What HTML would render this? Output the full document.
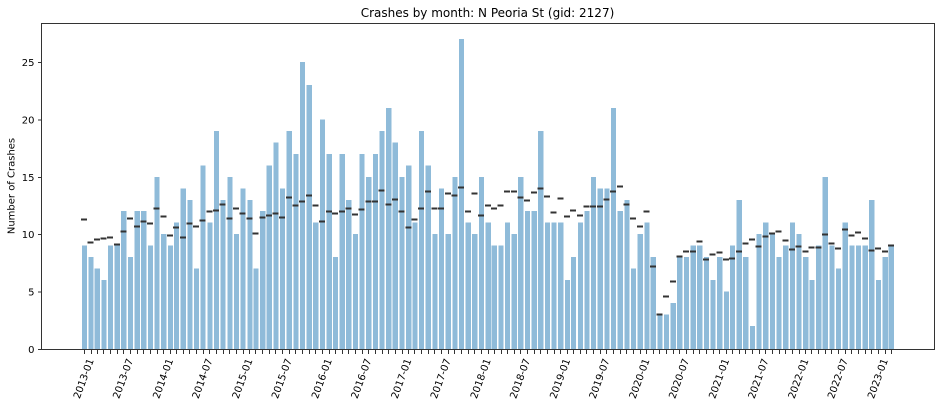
<!DOCTYPE html>
<html>
<head>
<meta charset="utf-8">
<title>Crashes by month</title>
<style>
html,body{margin:0;padding:0;background:#fff;}
svg{display:block;}
text{font-family:"DejaVu Sans","Liberation Sans",sans-serif;fill:#000000;}
</style>
</head>
<body>
<svg id="chart" xmlns="http://www.w3.org/2000/svg" width="940" height="406" viewBox="0 0 940 406">
  <rect x="0" y="0" width="940" height="406" fill="#ffffff"/>
  <g id="bars" shape-rendering="crispEdges"></g>
  <g id="dashes" shape-rendering="crispEdges"></g>
  <g id="xaxis"></g>
  <g id="yaxis"></g>
  <g shape-rendering="crispEdges" fill="#333333">
    <rect x="41" y="23" width="1" height="327"/>
    <rect x="934" y="23" width="1" height="327"/>
    <rect x="41" y="23" width="894" height="1"/>
    <rect x="41" y="349" width="894" height="1"/>
  </g>
  <text x="487.5" y="17" font-size="12" text-anchor="middle">Crashes by month: N Peoria St (gid: 2127)</text>
  <text x="0" y="0" font-size="10" text-anchor="middle" transform="translate(14.5,186) rotate(-90)">Number of Crashes</text>
</svg>
<script>
const months = [
"2013-01","2013-02","2013-03","2013-04","2013-05","2013-06","2013-07","2013-08","2013-09","2013-10","2013-11","2013-12",
"2014-01","2014-02","2014-03","2014-04","2014-05","2014-06","2014-07","2014-08","2014-09","2014-10","2014-11","2014-12",
"2015-01","2015-02","2015-03","2015-04","2015-05","2015-06","2015-07","2015-08","2015-09","2015-10","2015-11","2015-12",
"2016-01","2016-02","2016-03","2016-04","2016-05","2016-06","2016-07","2016-08","2016-09","2016-10","2016-11","2016-12",
"2017-01","2017-02","2017-03","2017-04","2017-05","2017-06","2017-07","2017-08","2017-09","2017-10","2017-11","2017-12",
"2018-01","2018-02","2018-03","2018-04","2018-05","2018-06","2018-07","2018-08","2018-09","2018-10","2018-11","2018-12",
"2019-01","2019-02","2019-03","2019-04","2019-05","2019-06","2019-07","2019-08","2019-09","2019-10","2019-11","2019-12",
"2020-01","2020-02","2020-03","2020-04","2020-05","2020-06","2020-07","2020-08","2020-09","2020-10","2020-11","2020-12",
"2021-01","2021-02","2021-03","2021-04","2021-05","2021-06","2021-07","2021-08","2021-09","2021-10","2021-11","2021-12",
"2022-01","2022-02","2022-03","2022-04","2022-05","2022-06","2022-07","2022-08","2022-09","2022-10","2022-11","2022-12",
"2023-01","2023-02","2023-03"];
const crashCounts = [
9,8,7,6,9,9,12,8,12,12,9,15,
10,9,11,14,13,7,16,11,19,13,15,10,
14,13,7,12,16,18,14,19,17,25,23,11,
20,17,8,17,13,10,17,15,17,19,21,18,
15,16,11,19,16,10,14,10,15,27,11,10,
15,11,9,9,11,10,15,12,12,19,11,11,
11,6,8,11,12,15,14,14,21,12,13,7,
10,11,8,3,3,4,8,8,9,9,8,6,
8,5,9,13,8,2,10,11,10,8,9,11,
10,8,6,9,15,9,7,11,9,9,9,13,
6,8,9];
const meanValues = [
11.27,9.26,9.52,9.61,9.70,9.09,10.22,11.35,10.66,11.09,10.92,12.22,
11.53,9.87,10.57,9.70,10.92,10.66,11.18,11.96,12.05,12.57,11.35,12.22,
11.79,11.35,10.05,11.44,11.61,11.79,11.44,13.18,12.49,12.83,13.36,12.49,
11.09,11.96,11.79,11.96,12.22,11.70,12.14,12.83,12.83,13.79,12.57,13.01,
11.96,10.57,11.27,12.22,13.70,12.22,12.22,13.53,13.36,14.05,11.96,13.53,
11.61,12.49,12.22,12.49,13.70,13.70,13.18,12.92,13.62,13.97,13.27,11.88,
13.10,11.53,12.05,11.61,12.40,12.40,12.40,13.01,13.70,14.14,12.57,11.35,
10.66,11.96,7.17,2.99,4.56,5.87,8.04,8.48,8.48,9.35,7.78,8.22,
8.39,7.78,7.87,8.48,9.18,9.52,8.91,9.79,10.05,10.22,9.44,8.65,
8.91,8.48,8.83,8.83,9.96,9.18,8.74,10.39,9.87,10.13,9.61,8.57,
8.74,8.48,9.00];
const xTickLabels = ["2013-01","2013-07","2014-01","2014-07","2015-01","2015-07","2016-01","2016-07","2017-01","2017-07","2018-01","2018-07","2019-01","2019-07","2020-01","2020-07","2021-01","2021-07","2022-01","2022-07","2023-01"];
const yTickValues = [0,5,10,15,20,25];

const NS = "http://www.w3.org/2000/svg";
function dayOf(month) {
  const parts = month.split("-");
  return Date.UTC(+parts[0], +parts[1] - 1, 1) / 86400000;
}
const firstDay = dayOf(months[0]);
const lastDay = dayOf(months[months.length - 1]);
function xScale(month) {
  return 84.4 + (dayOf(month) - firstDay) * (806.9 / (lastDay - firstDay));
}
function yScale(value) {
  return 349 - value * 11.48;
}
function make(tag, attrs, parent) {
  const el = document.createElementNS(NS, tag);
  for (const key in attrs) el.setAttribute(key, attrs[key]);
  parent.appendChild(el);
  return el;
}
const barLayer = document.getElementById("bars");
const dashLayer = document.getElementById("dashes");
const xLayer = document.getElementById("xaxis");
const yLayer = document.getElementById("yaxis");

months.forEach(function (month, i) {
  const cx = xScale(month);
  const top = yScale(crashCounts[i]);
  const bar = make("rect", {x: cx - 2.6, y: top, width: 5.2, height: 349 - top, fill: "#8fbbd9"}, barLayer);
  
  

  const dash = make("rect", {x: cx - 3.4, y: yScale(meanValues[i]) - 1, width: 6, height: 2, fill: "#333333"}, dashLayer);
  
  

  const tick = make("rect", {x: Math.floor(cx), y: 350, width: 1, height: 4, fill: "#333333", "shape-rendering": "crispEdges"}, xLayer);
  
  
});

xTickLabels.forEach(function (label) {
  const cx = xScale(label) - 1;
  const cy = 378.5;
  const text = make("text", {x: 0, y: 3.6, "font-size": 10, "text-anchor": "middle", transform: "translate(" + cx + "," + cy + ") rotate(-70)"}, xLayer);
  text.textContent = label;
  
  
});

yTickValues.forEach(function (value) {
  const y = yScale(value);
  const tick = make("rect", {x: 38, y: y, width: 3, height: 1, fill: "#333333", "shape-rendering": "crispEdges"}, yLayer);
  
  
  const text = make("text", {x: 34.5, y: y + 4, "font-size": 10, "text-anchor": "end"}, yLayer);
  text.textContent = value;
  
  
});
</script>
</body>
</html>
